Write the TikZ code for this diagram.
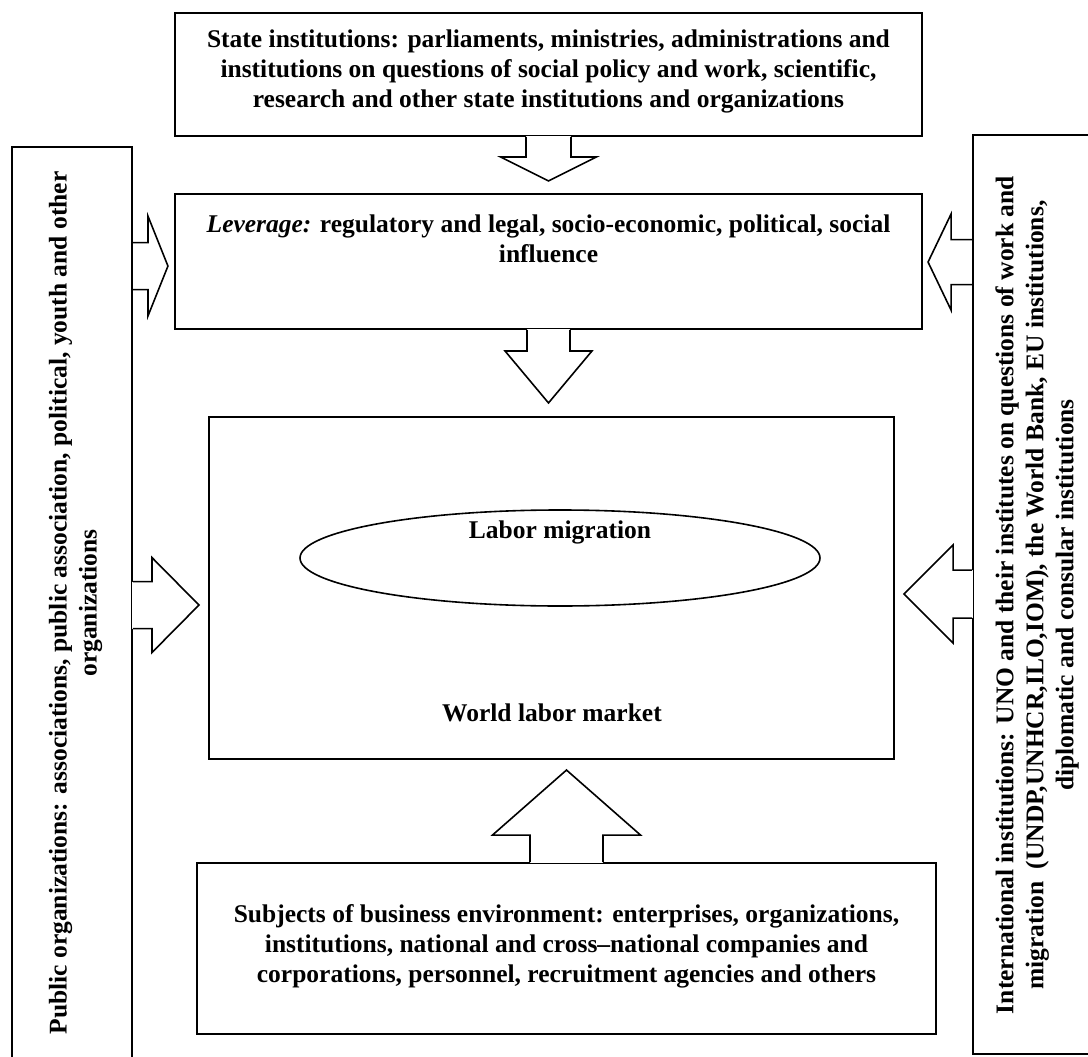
\documentclass[tikz,border=0pt]{standalone}
\usepackage{fontspec}
\setmainfont{Liberation Serif}
\usetikzlibrary{calc,shapes.geometric}
\tikzset{
  box/.style={draw, line width=1.9pt, rectangle, inner sep=0pt},
  lbl/.style={font=\fontsize{25.5}{30}\selectfont\bfseries, align=center, inner sep=0pt},
  arrowline/.style={line width=1.6pt, line join=miter},
  pics/openarrow/.style n args={4}{code={
    \fill[white] (-1.4,{-#3}) rectangle (0.2,{#3});
    \fill[white] (0,{-#3}) -- ({#1-#2},{-#3}) -- ({#1-#2},{-#4}) -- (#1,0) -- ({#1-#2},{#4}) -- ({#1-#2},{#3}) -- (0,{#3}) -- cycle;
    \draw[arrowline] (0,{-#3}) -- ({#1-#2},{-#3}) -- ({#1-#2},{-#4}) -- (#1,0) -- ({#1-#2},{#4}) -- ({#1-#2},{#3}) -- (0,{#3});
  }},
  pics/closedarrow/.style n args={4}{code={
    \draw[arrowline] (0,{-#3}) -- ({#1-#2},{-#3}) -- ({#1-#2},{-#4}) -- (#1,0) -- ({#1-#2},{#4}) -- ({#1-#2},{#3}) -- (0,{#3});
  }},
}
\begin{document}
\begin{tikzpicture}[x=1pt,y=1pt]
\useasboundingbox (0,0) rectangle (1088,-1057);
\fill[white] (0,0) rectangle (1088,-1057);

% side boxes (clipped by the page)
\begin{scope}
  \clip (0,0) rectangle (1088,-1057);
  \node[box, minimum width=120pt, minimum height=930pt] (pub) at (72,-612) {};
  \node[box, minimum width=130pt, minimum height=919pt] (int) at (1038,-594.5) {};
\end{scope}
\node[lbl, rotate=90] (pubtext) at (75.5,-603)
  {Public organizations: associations, public association, political, youth and other\\organizations};
\node[lbl, rotate=90] (inttext) at (1037,-595)
  {International institutions: UNO and their institutes on questions of work and\\migration~~(UNDP,UNHCR,ILO,IOM), the World Bank, EU institutions,\\diplomatic and consular institutions};

% top box
\node[box, minimum width=747pt, minimum height=123pt] (top) at (548.5,-74.5) {};
\node[lbl] (toptext) at (548.5,-71)
  {State institutions: parliaments, ministries, administrations and\\institutions on questions of social policy and work, scientific,\\research and other state institutions and organizations};

% leverage box
\node[box, minimum width=747pt, minimum height=135pt] (lev) at (548.5,-261.5) {};
\node[lbl] (levtext) at (548.5,-239)
  {\textit{Leverage:} regulatory and legal, socio-economic, political, social\\influence};

% world labor market
\node[box, minimum width=685pt, minimum height=342pt] (world) at (551.5,-588) {};
\node[draw, ellipse, line width=1.6pt, minimum width=520pt, minimum height=96pt, inner sep=0pt] (mig) at (560,-558) {};
\node[lbl] (migtext) at (560,-532) {Labor migration};
\node[lbl] (worldtext) at (552,-713) {World labor market};

% business box
\node[box, minimum width=739pt, minimum height=171pt] (bus) at (566.5,-948.5) {};
\node[lbl] (bustext) at (566.5,-946)
  {Subjects of business environment: enterprises, organizations,\\institutions, national and cross–national companies and\\corporations, personnel, recruitment agencies and others};

% block arrows
\pic[rotate=-90] at (top.south) {openarrow={44}{24}{22.5}{48}};
\pic[rotate=-90] at (lev.south) {openarrow={73}{52}{21.5}{43.5}};
\pic[rotate=90] at (bus.north) {openarrow={92}{65}{36.5}{74}};
\pic at ($(pub.north east)+(0,-120)$) {closedarrow={35}{20}{23.5}{50}};
\pic at ($(pub.north east)+(0,-459)$) {openarrow={66}{47}{23.5}{47.5}};
\pic[rotate=180] at ($(int.north west)+(0,-128)$) {closedarrow={44}{23}{22.5}{48}};
\pic[rotate=180] at ($(int.north west)+(0,-460)$) {openarrow={68}{49}{24}{49}};
\end{tikzpicture}
\end{document}
